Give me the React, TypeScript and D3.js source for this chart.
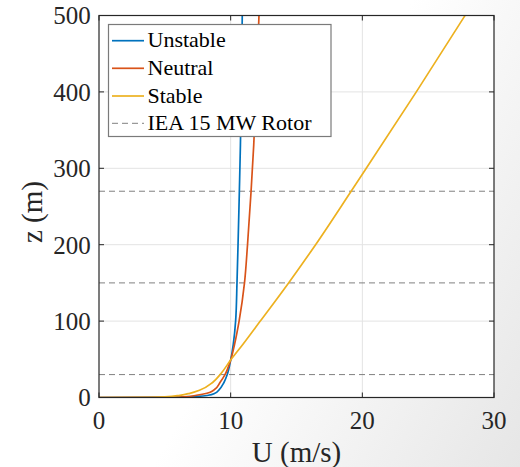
import React from "react";
import * as d3 from "d3";

// ---- Data ----
const xTicks = [0, 10, 20, 30];
const yTicks = [0, 100, 200, 300, 400, 500];
const rotorHeights = [30, 150, 270];
const legendLabels = ["Unstable", "Neutral", "Stable", "IEA 15 MW Rotor"];
const seriesColors = ["#0072BD", "#D95319", "#EDB120"];

// z (m) sample heights and U (m/s)
const zUnstable = [0, 0.3, 0.8, 1.5, 2.9, 5.5, 9.8, 20, 30, 49, 70, 101, 150, 200, 270, 330, 400, 500];
const uUnstable = [0, 5.0, 6.5, 7.5, 8.3, 8.8, 9.1, 9.5, 9.74, 10.0, 10.2, 10.38, 10.48, 10.56, 10.66, 10.74, 10.81, 10.88];

const zNeutral = [0, 0.3, 0.8, 2.9, 5.5, 9.8, 20, 30, 49, 70, 101, 150, 200, 270, 330, 400, 500];
const uNeutral = [0, 5.5, 6.5, 7.4, 8.2, 8.73, 9.2, 9.57, 10.0, 10.3, 10.65, 11.05, 11.28, 11.55, 11.75, 11.93, 12.15];

const zStable = [0, 0.3, 0.8, 2.9, 5.5, 9.8, 20, 30, 49, 70, 100, 150, 200, 270, 300, 400, 500];
const uStable = [0, 4.0, 5.0, 6.15, 6.9, 7.67, 8.65, 9.2, 10.0, 10.95, 12.25, 14.4, 16.45, 19.15, 20.3, 24.1, 27.8];

const seriesZ = [zUnstable, zNeutral, zStable];
const seriesU = [uUnstable, uNeutral, uStable];

const W = 520;
const H = 467;
const M = { left: 99, right: 494, top: 15.5, bottom: 397.5 };
const FONT = "'Liberation Serif', 'Times New Roman', serif";
const TXT = "#262626";

export default function App() {
  const x = d3.scaleLinear().domain([0, 30]).range([M.left, M.right]);
  const y = d3.scaleLinear().domain([0, 500]).range([M.bottom, M.top]);

  const line = d3
    .line<[number, number]>()
    .x((d) => x(d[0]))
    .y((d) => y(d[1]))
    .curve(d3.curveMonotoneY);

  const paths = seriesU.map((us, i) =>
    line(us.map((u, k) => [u, seriesZ[i][k]] as [number, number]))
  );

  const tickLen = 5;
  const legX = 108.5;
  const legY = 24.5;
  const legW = 222.5;
  const legH = 112;
  const rowY = [40.7, 68.3, 96, 123.3];

  return (
    <svg
      width={W}
      height={H}
      style={{ position: "absolute", left: 0, top: 0, display: "block" }}
      fontFamily={FONT}
    >
      <defs>
        <linearGradient
          id="bg"
          gradientUnits="userSpaceOnUse"
          x1={315}
          y1={175}
          x2={595}
          y2={331}
        >
          <stop offset="0" stopColor="#ffffff" />
          <stop offset="1" stopColor="#e6e6e6" />
        </linearGradient>
        <clipPath id="plotclip">
          <rect x={M.left} y={M.top} width={M.right - M.left} height={M.bottom - M.top} />
        </clipPath>
      </defs>
      <rect x={0} y={0} width={W} height={H} fill="url(#bg)" />
      <rect x={M.left} y={M.top} width={M.right - M.left} height={M.bottom - M.top} fill="#ffffff" />

      {/* grid */}
      {xTicks.slice(1, -1).map((t) => (
        <line key={"gx" + t} x1={x(t)} x2={x(t)} y1={M.top} y2={M.bottom} stroke="#e3e3e3" strokeWidth={1} />
      ))}
      {yTicks.slice(1, -1).map((t) => (
        <line key={"gy" + t} x1={M.left} x2={M.right} y1={y(t)} y2={y(t)} stroke="#e3e3e3" strokeWidth={1} />
      ))}

      {/* rotor lines */}
      {rotorHeights.map((h) => (
        <line
          key={"r" + h}
          x1={M.left}
          x2={M.right}
          y1={y(h)}
          y2={y(h)}
          stroke="#808080"
          strokeWidth={1}
          strokeDasharray="6,4"
        />
      ))}

      {/* curves */}
      <g clipPath="url(#plotclip)">
        {paths.map((p, i) => (
          <path key={"s" + i} d={p || ""} fill="none" stroke={seriesColors[i]} strokeWidth={1.7} />
        ))}
      </g>

      {/* axes box & ticks */}
      <rect
        x={M.left}
        y={M.top}
        width={M.right - M.left}
        height={M.bottom - M.top}
        fill="none"
        stroke={TXT}
        strokeWidth={1.2}
      />
      {xTicks.map((t) => (
        <g key={"tx" + t}>
          <line x1={x(t)} x2={x(t)} y1={M.bottom} y2={M.bottom - tickLen} stroke={TXT} />
          <line x1={x(t)} x2={x(t)} y1={M.top} y2={M.top + tickLen} stroke={TXT} />
          <text x={x(t)} y={428.5} textAnchor="middle" fontSize={25} fill={TXT}>
            {t}
          </text>
        </g>
      ))}
      {yTicks.map((t) => (
        <g key={"ty" + t}>
          <line x1={M.left} x2={M.left + tickLen} y1={y(t)} y2={y(t)} stroke={TXT} />
          <line x1={M.right} x2={M.right - tickLen} y1={y(t)} y2={y(t)} stroke={TXT} />
          <text x={90.7} y={y(t) + 8.8} textAnchor="end" fontSize={25} fill={TXT}>
            {t}
          </text>
        </g>
      ))}

      {/* axis labels */}
      <text x={296.5} y={462} textAnchor="middle" fontSize={29} fill={TXT}>
        U (m/s)
      </text>
      <text
        transform={`translate(42,212) rotate(-90)`}
        textAnchor="middle"
        fontSize={29}
        fill={TXT}
      >
        z (m)
      </text>

      {/* legend */}
      <rect x={legX} y={legY} width={legW} height={legH} fill="#ffffff" stroke="#7a7a7a" strokeWidth={1.2} />
      {legendLabels.map((lab, i) => (
        <g key={"l" + i}>
          <line
            x1={112}
            x2={144}
            y1={rowY[i]}
            y2={rowY[i]}
            stroke={i < 3 ? seriesColors[i] : "#808080"}
            strokeWidth={i < 3 ? 1.7 : 1}
            strokeDasharray={i < 3 ? undefined : "6,4"}
          />
          <text x={147.5} y={rowY[i] + 6.6} fontSize={22} fill="#000">
            {lab}
          </text>
        </g>
      ))}
    </svg>
  );
}
